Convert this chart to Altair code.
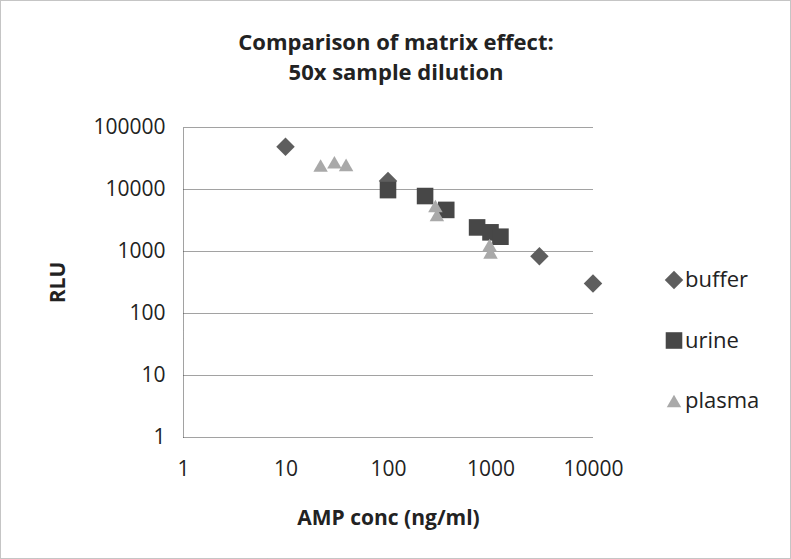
import altair as alt
import pandas as pd

# --- data ---
buffer_x = [10, 100, 3000, 10000]
buffer_y = [48000, 13500, 820, 300]

urine_x = [100, 230, 370, 740, 1000, 1250]
urine_y = [9600, 7700, 4600, 2400, 2000, 1700]

plasma_x = [22, 30, 39, 290, 300, 980, 1000]
plasma_y = [24000, 27000, 24500, 5300, 3800, 1250, 950]

series = ["buffer", "urine", "plasma"]
x_ticks = [1, 10, 100, 1000, 10000]
y_ticks = [1, 10, 100, 1000, 10000, 100000]
title_lines = ["Comparison of matrix effect:", "50x sample dilution"]

rows = []
for name, xs, ys in [("buffer", buffer_x, buffer_y), ("urine", urine_x, urine_y), ("plasma", plasma_x, plasma_y)]:
    for a, b in zip(xs, ys):
        rows.append({"series": name, "conc": a, "rlu": b})
df = pd.DataFrame(rows)

FONT = "Open Sans"
GRID = "#444444"

points = alt.Chart(df).mark_point(filled=True, opacity=1, strokeWidth=0).encode(
    x=alt.X("conc:Q", scale=alt.Scale(type="log", domain=[1, 10000]),
            axis=alt.Axis(values=x_ticks, format="d", title="AMP conc (ng/ml)",
                          grid=False, domain=False, ticks=False, labelFlush=False,
                          labelPadding=21, titlePadding=28)),
    y=alt.Y("rlu:Q", scale=alt.Scale(type="log", domain=[1, 100000]),
            axis=alt.Axis(values=y_ticks, format="d", title="RLU",
                          grid=True, gridColor=GRID, gridDash=[1, 1], gridWidth=1,
                          domain=True, domainColor=GRID, domainDash=[1, 1],
                          ticks=False, labelFlush=False, labelPadding=18, titlePadding=24)),
    color=alt.Color("series:N", scale=alt.Scale(domain=series, range=["#5e5e5e", "#474747", "#a9a9a9"]),
                    legend=alt.Legend(title=None, orient="none", legendX=480, legendY=142,
                                      symbolSize=150, labelFontSize=22, labelFont=FONT, labelColor="#222",
                                      rowPadding=38.5, labelOffset=0, symbolStrokeWidth=0)),
    shape=alt.Shape("series:N", scale=alt.Scale(domain=series, range=["diamond", "square", "triangle-up"]),
                    legend=alt.Legend(title=None)),
    size=alt.Size("series:N", scale=alt.Scale(domain=series, range=[340, 210, 470]), legend=None),
    order=alt.Order("order:Q"),
).transform_calculate(order="indexof(['buffer','urine','plasma'], datum.series)")

border = alt.Chart(pd.DataFrame({"a": [0]})).mark_rect(
    fill=None, stroke="#8a8a8a", strokeDash=[1, 1], strokeWidth=1
).encode(x=alt.value(-182.5), x2=alt.value(607.5), y=alt.value(-126.5), y2=alt.value(431.5))

title = alt.Chart(pd.DataFrame({"t": title_lines, "i": [0, 1]})).transform_calculate(
    ty="-84 + 30 * datum.i"
).mark_text(font=FONT, fontSize=22, fontWeight="bold", color="#222", align="center", baseline="middle").encode(
    text="t:N", x=alt.value(213), y=alt.Y("ty:Q", scale=None)
)

chart = alt.layer(border, points, title).properties(
    width=410, height=310,
    autosize=alt.AutoSizeParams(type="none"),
    padding={"left": 183, "top": 127, "right": 198, "bottom": 122},
    background="white",
).configure_view(stroke=None).configure_axis(
    labelFont=FONT, labelFontSize=21, labelColor="#222",
    titleFont=FONT, titleFontSize=21, titleFontWeight="bold", titleColor="#222",
)

chart.save("out.html", embed_options={"renderer": "svg", "actions": False})
